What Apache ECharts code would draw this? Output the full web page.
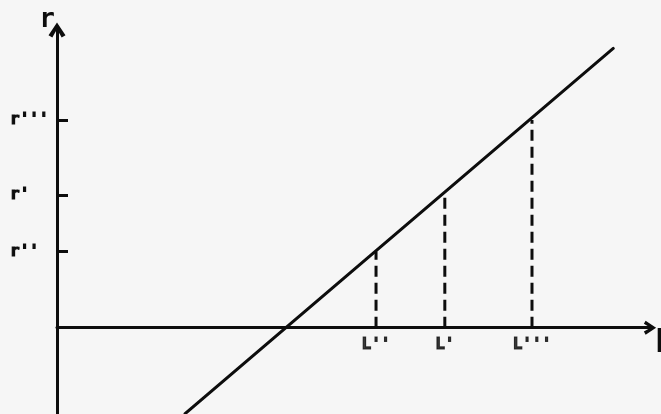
<!DOCTYPE html>
<html>
<head>
<meta charset="utf-8">
<script src="https://cdn.jsdelivr.net/npm/echarts@6/dist/echarts.min.js"></script>
<style>
  html, body { margin: 0; padding: 0; background: #f6f6f6; }
  #chart { width: 661px; height: 414px; }
</style>
</head>
<body>
<div id="chart"></div>
<script>
// 横轴上的 L 位置与标签
const lPositions = [5.38, 6.54, 8.01];
const lLabels = ["L''", "L'", "L'''"];
// 纵轴上的 r 位置与标签（与 L 一一对应）
const rPositions = [1.28, 2.23, 3.49];
const rLabels = ["r''", "r'", "r'''"];
// 斜线两个端点
const lineX = [2.16, 9.38];
const lineY = [-1.445, 4.69];

const ink = '#0d0d0d';
const font = '"DejaVu Sans Mono", monospace';
// 开口箭头（朝上，ECharts 会按轴方向旋转）
const chevron = 'path://M0,15 L10,0 L20,15 L15.5,17.5 L10,8 L4.5,17.5 Z';

// 打字机风格的粗字
const labelText = {
    fontFamily: font, fontWeight: 'bold', fontSize: 16, color: ink,
    textBorderColor: ink, textBorderWidth: 1.2
};

function pickLabel(values, labels, v) {
    for (let i = 0; i < values.length; i++) {
        if (Math.abs(values[i] - v) < 1e-6) return labels[i];
    }
    return '';
}

const chart = echarts.init(document.getElementById('chart'));

const series = [{
    type: 'line',
    data: [[lineX[0], lineY[0]], [lineX[1], lineY[1]]],
    symbol: 'none',
    lineStyle: { color: ink, width: 3, cap: 'round' },
    z: 3
}];

// 虚线：从横轴竖到斜线
lPositions.forEach(function (x, i) {
    series.push({
        type: 'line',
        data: [[x, 0], [x, rPositions[i]]],
        symbol: 'none',
        lineStyle: { color: ink, width: 3, type: [11, 6] },
        z: 2
    });
});

// 横轴下方的 L 标签（挂在 y=0 的点上）
series.push({
    type: 'scatter',
    symbolSize: 1,
    itemStyle: { color: 'rgba(0,0,0,0)' },
    data: lPositions.map(function (x, i) { return { value: [x, 0], name: lLabels[i] }; }),
    label: Object.assign({
        show: true,
        position: 'bottom',
        distance: 9,
        formatter: '{b}'
    }, labelText),
    silent: true,
    z: 4
});

chart.setOption({
    animation: false,
    backgroundColor: '#f6f6f6',
    grid: { left: 57, right: 11, top: 30, bottom: 0, outerBoundsMode: 'none' },
    xAxis: {
        type: 'value',
        min: 0,
        max: 10,
        name: 'l',
        nameLocation: 'end',
        nameGap: 5,
        nameTextStyle: {
            fontFamily: '"DejaVu Sans", sans-serif', fontWeight: 'bold', fontSize: 32, color: ink,
            align: 'left', verticalAlign: 'top', padding: [0, 0, 0, 0]
        },
        axisLine: {
            onZero: true,
            symbol: ['none', chevron],
            symbolSize: [14, 17],
            lineStyle: { color: ink, width: 3 }
        },
        axisTick: { show: false },
        splitLine: { show: false },
        axisLabel: { show: false }
    },
    yAxis: {
        type: 'value',
        min: -1.45,
        max: 5,
        name: 'r',
        nameLocation: 'end',
        nameGap: 10,
        nameTextStyle: {
            fontFamily: font, fontWeight: 'bold', fontSize: 26, color: ink,
            align: 'right', verticalAlign: 'middle', padding: [0, 2, 0, 0]
        },
        axisLine: {
            onZero: true,
            symbol: ['none', chevron],
            symbolSize: [17, 17],
            lineStyle: { color: ink, width: 3 }
        },
        axisTick: {
            show: true,
            inside: true,
            length: 11,
            customValues: rPositions,
            lineStyle: { color: ink, width: 3 }
        },
        splitLine: { show: false },
        axisLabel: Object.assign({
            customValues: rPositions,
            formatter: function (v) { return pickLabel(rPositions, rLabels, v); },
            align: 'left',
            margin: 47
        }, labelText)
    },
    series: series
});
</script>
</body>
</html>
